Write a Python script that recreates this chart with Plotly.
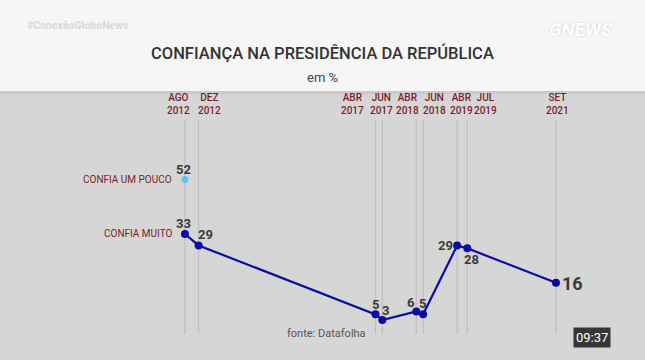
import plotly.graph_objects as go

# ---- data ----
dates = ["2012-08-01", "2012-12-01", "2017-04-01", "2017-06-01", "2018-04-01",
         "2018-06-01", "2019-04-01", "2019-07-01", "2021-09-01"]
date_labels = ["AGO<br>2012", "DEZ<br>2012", "ABR<br>2017", "JUN<br>2017", "ABR<br>2018",
               "JUN<br>2018", "ABR<br>2019", "JUL<br>2019", "SET<br>2021"]
confia_muito = [33, 29, 5, 3, 6, 5, 29, 28, 16]
confia_pouco_dates = ["2012-08-01"]
confia_pouco = [52]
series_names = ["CONFIA MUITO", "CONFIA UM POUCO"]
title = "CONFIANÇA NA PRESIDÊNCIA DA REPÚBLICA"
subtitle = "em %"
source = "fonte: Datafolha"

# ---- styling / layout ----
FONT = "Roboto, Lato, sans-serif"
RED = "#7a1f2a"
NUM = "#3b3b3b"
BLUE = "#0b0ba3"
W, H = 645, 360
# value-label offsets from each point (px: right, down)
label_off = [(-1, -10), (7, -11), (0, -10), (3, -10), (-5, -9),
             (-1, -11), (-12, 0), (4, 11), (17, 1)]
label_size = [13, 13, 13, 13, 13, 13, 13, 13, 18]
date_label_px = [178, 209, 353, 381, 407, 434, 461, 485, 557]  # label centres (px)


def px(xp):
    return xp / W


def py(yp):
    return 1 - yp / H


fig = go.Figure()

# header band
fig.add_shape(type="rect", xref="paper", yref="paper", x0=0, x1=1, y0=py(91), y1=1,
              fillcolor="#f6f6f6", line_width=0, layer="below")
fig.add_shape(type="rect", xref="paper", yref="paper", x0=0, x1=1, y0=py(94), y1=py(91),
              fillcolor="#cacaca", line_width=0, layer="below")

# vertical guide lines
for d in dates:
    fig.add_shape(type="line", xref="x", yref="paper", x0=d, x1=d,
                  y0=py(334), y1=py(120),
                  line=dict(color="#bfbfbf", width=1.2), layer="below")

fig.add_trace(go.Scatter(
    x=dates, y=confia_muito, mode="lines+markers",
    line=dict(color=BLUE, width=2.2),
    marker=dict(color=BLUE, size=8),
    name=series_names[0], cliponaxis=False, showlegend=False))

fig.add_trace(go.Scatter(
    x=confia_pouco_dates, y=confia_pouco, mode="markers",
    marker=dict(color="#5ec4f2", size=7),
    name=series_names[1], cliponaxis=False, showlegend=False))

# value labels
for d, v, (dx, dy), s in zip(dates, confia_muito, label_off, label_size):
    fig.add_annotation(x=d, y=v, text=str(v), showarrow=False, xshift=dx, yshift=-dy,
                       xanchor="center", yanchor="middle",
                       font=dict(family=FONT, size=s, color=NUM, weight="bold"))
for d, v in zip(confia_pouco_dates, confia_pouco):
    fig.add_annotation(x=d, y=v, text=str(v), showarrow=False, xshift=-1, yshift=10,
                       xanchor="center", yanchor="middle",
                       font=dict(family=FONT, size=13, color=NUM, weight="bold"))

# series labels
fig.add_annotation(x=confia_pouco_dates[0], y=confia_pouco[0], text=series_names[1],
                   xanchor="right", yanchor="middle", xshift=-11, showarrow=False,
                   font=dict(family=FONT, size=10, color=RED))
fig.add_annotation(x=dates[0], y=confia_muito[0], text=series_names[0],
                   xanchor="right", yanchor="middle", xshift=-11, showarrow=False,
                   font=dict(family=FONT, size=10, color=RED))

# date labels
for xp, lab in zip(date_label_px, date_labels):
    fig.add_annotation(x=px(xp), y=py(90), xref="paper", yref="paper", text=lab,
                       yanchor="top", xanchor="center", showarrow=False,
                       font=dict(family=FONT, size=10, color=RED, weight=500))

# header texts
fig.add_annotation(x=px(322), y=py(53), xref="paper", yref="paper", text=title,
                   showarrow=False, yanchor="middle",
                   font=dict(family=FONT, size=16.5, color="#333333", weight=500))
fig.add_annotation(x=px(322), y=py(77), xref="paper", yref="paper", text=subtitle,
                   showarrow=False, yanchor="middle",
                   font=dict(family=FONT, size=13, color="#444444"))
fig.add_annotation(x=px(25), y=py(26), xref="paper", yref="paper",
                   text="#ConexãoGloboNews", showarrow=False, xanchor="left", yanchor="middle",
                   font=dict(family=FONT, size=10.5, color="#d9d9d9", weight="bold"))
fig.add_annotation(x=px(615), y=py(29), xref="paper", yref="paper",
                   text="<i>GNEWS</i>", showarrow=False, xanchor="right", yanchor="middle",
                   font=dict(family=FONT, size=19, color="#ffffff", weight="bold",
                             shadow="0px 0px 2px #c4c4c4"))

# source and clock
fig.add_annotation(x=px(285), y=py(333), xref="paper", yref="paper", text=source,
                   showarrow=False, xanchor="left", yanchor="middle",
                   font=dict(family=FONT, size=11, color="#555555"))
fig.add_annotation(x=px(592), y=py(337.5), xref="paper", yref="paper", text="09:37",
                   showarrow=False, xanchor="center", yanchor="middle",
                   bgcolor="#363636", borderpad=2,
                   font=dict(family=FONT, size=13, color="#ffffff"))

fig.update_xaxes(type="date", range=["2008-01-21", "2023-11-06"], visible=False, fixedrange=True)
fig.update_yaxes(range=[-10.9, 114.5], visible=False, fixedrange=True)
fig.update_layout(width=W, height=H, margin=dict(l=0, r=0, t=0, b=0),
                  paper_bgcolor="#d6d6d6", plot_bgcolor="rgba(0,0,0,0)")

fig.write_html("out.html", config={"displayModeBar": False},
               post_script="document.body.style.margin='0px';")
